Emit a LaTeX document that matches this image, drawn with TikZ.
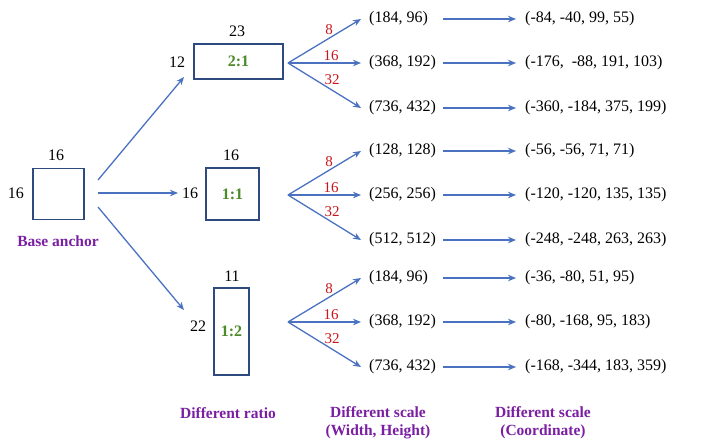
\documentclass[tikz,border=0pt]{standalone}
\usepackage{fontspec}
\setmainfont{Liberation Serif}
\usetikzlibrary{arrows.meta}
\definecolor{arrblue}{HTML}{4A72C0}
\definecolor{boxblue}{HTML}{2E4A7E}
\definecolor{ratgreen}{HTML}{4C8A2A}
\definecolor{labpurple}{HTML}{7A1FA2}
\definecolor{numred}{HTML}{C8161D}
\tikzset{
  arr/.style={draw=arrblue, line width=1.3pt, -{Stealth[length=8pt,width=6.5pt,inset=2.5pt]}},
  anchorbox/.style={draw=boxblue, line width=1.3pt, inner sep=0pt},
  txt/.style={font=\fontsize{16}{18}\selectfont, inner sep=0pt},
  ratio/.style={font=\fontsize{16}{18}\selectfont\bfseries, text=ratgreen, inner sep=0pt},
  scl/.style={font=\fontsize{15}{17}\selectfont, text=numred, inner sep=0pt},
  title/.style={font=\fontsize{15.5}{18}\selectfont\bfseries, text=labpurple, align=center, inner sep=0pt},
}
\begin{document}
\begin{tikzpicture}[x=1pt,y=-1pt]
\useasboundingbox (0,0) rectangle (720,445);
% base anchor
\node[anchorbox, minimum width=51pt, minimum height=51pt] (base) at (58.5,194) {};
\node[txt] (baset) at (56,155) {16};
\node[txt] (basel) at (16,193) {16};
\node[title] (basen) at (58,241) {Base anchor};
% ratio boxes
\node[anchorbox, minimum width=89pt, minimum height=35pt] (r21) at (238.5,61.5) {};
\node[ratio] at (r21) {2:1};
\node[txt] (r21t) at (237,31) {23};
\node[txt] (r21l) at (177,62) {12};
\node[anchorbox, minimum width=53pt, minimum height=52pt] (r11) at (232.5,194) {};
\node[ratio] at (r11) {1:1};
\node[txt] (r11t) at (231,155) {16};
\node[txt] (r11l) at (190,193) {16};
\node[anchorbox, minimum width=35pt, minimum height=87pt] (r12) at (231.5,331.5) {};
\node[ratio] at (r12.center) {1:2};
\node[txt] (r12t) at (232,276) {11};
\node[txt] (r12l) at (198,326) {22};
% arrows from base
\coordinate (bs1) at (98,180);
\coordinate (bs2) at (98,193);
\coordinate (bs3) at (98,207);
\coordinate (be1) at (184,77);
\coordinate (be2) at (178,193);
\coordinate (be3) at (184,310);
\draw[arr] (bs1) -- (be1);
\draw[arr] (bs2) -- (be2);
\draw[arr] (bs3) -- (be3);
% fans
\foreach \g/\yo/\ya/\yc in {1/63/19/108, 2/195/151/240, 3/322/278/367}{
  \coordinate (f\g) at (288,\yo);
  \coordinate (fa\g) at (361,\ya);
  \coordinate (fb\g) at (361,\yo);
  \coordinate (fc\g) at (361,\yc);
  \draw[arr] (f\g) -- (fa\g);
  \draw[arr] (f\g) -- (fb\g);
  \draw[arr] (f\g) -- (fc\g);
  \node[scl] at (329,\yo-33) {8};
  \node[scl] at (331,\yo-7) {16};
  \node[scl] at (332,\yo+17) {32};
  \foreach \r/\yy in {a/\ya,b/\yo,c/\yc}{
    \coordinate (hs\g\r) at (443,\yy);
    \coordinate (he\g\r) at (516,\yy);
    \draw[arr] (hs\g\r) -- (he\g\r);
  }
}
% pair texts
\node[txt, anchor=west] (p1a) at (369,19) {(184, 96)};
\node[txt, anchor=west] (p1b) at (369,63) {(368, 192)};
\node[txt, anchor=west] (p1c) at (369,108) {(736, 432)};
\node[txt, anchor=west] (p2a) at (369,151) {(128, 128)};
\node[txt, anchor=west] (p2b) at (369,195) {(256, 256)};
\node[txt, anchor=west] (p2c) at (369,240) {(512, 512)};
\node[txt, anchor=west] (p3a) at (369,278) {(184, 96)};
\node[txt, anchor=west] (p3b) at (369,322) {(368, 192)};
\node[txt, anchor=west] (p3c) at (369,367) {(736, 432)};
% coordinate texts
\node[txt, anchor=west] (c1a) at (525,19) {(-84, -40, 99, 55)};
\node[txt, anchor=west] (c1b) at (525,63) {(-176,\ \ -88, 191, 103)};
\node[txt, anchor=west] (c1c) at (525,108) {(-360, -184, 375, 199)};
\node[txt, anchor=west] (c2a) at (525,151) {(-56, -56, 71, 71)};
\node[txt, anchor=west] (c2b) at (525,195) {(-120, -120, 135, 135)};
\node[txt, anchor=west] (c2c) at (525,240) {(-248, -248, 263, 263)};
\node[txt, anchor=west] (c3a) at (525,278) {(-36, -80, 51, 95)};
\node[txt, anchor=west] (c3b) at (525,322) {(-80, -168, 95, 183)};
\node[txt, anchor=west] (c3c) at (525,367) {(-168, -344, 183, 359)};
% bottom titles
\node[title] (t1) at (228,413) {Different ratio};
\node[title] (t2) at (378,423) {Different scale\\(Width, Height)};
\node[title] (t3) at (543,423) {Different scale\\(Coordinate)};
\end{tikzpicture}
\end{document}
